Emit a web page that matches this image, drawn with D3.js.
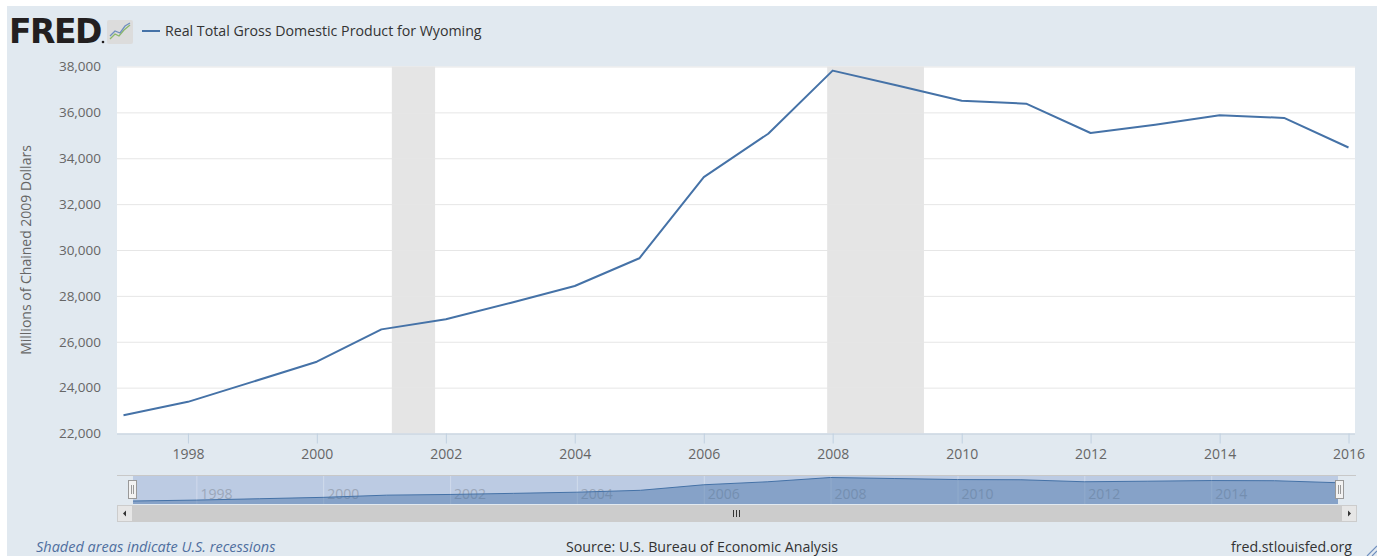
<!DOCTYPE html>
<html>
<head>
<meta charset="utf-8">
<script src="https://cdn.jsdelivr.net/npm/d3@7"></script>
<style>
  html, body { margin: 0; padding: 0; background: #fff; }
  svg { display: block; font-family: "Open Sans", sans-serif; }
</style>
</head>
<body>
<div id="chart"></div>
<script>
'use strict'

// data (annual values, millions of chained 2009 dollars)
const years = [1997, 1998, 1999, 2000, 2001, 2002, 2003, 2004, 2005, 2006,
               2007, 2008, 2009, 2010, 2011, 2012, 2013, 2014, 2015, 2016];
const gdp = [22800, 23380, 24250, 25130, 26540, 26980, 27690, 28430, 29640, 33180,
             35070, 37820, 37170, 36510, 36380, 35100, 35460, 35870, 35760, 34470];
const recessionStart = ["2001-03-01", "2007-12-01"];
const recessionEnd = ["2001-11-01", "2009-06-01"];
const yTicks = [22000, 24000, 26000, 28000, 30000, 32000, 34000, 36000, 38000];
const xTickYears = [1998, 2000, 2002, 2004, 2006, 2008, 2010, 2012, 2014, 2016];
const navTickYears = [1998, 2000, 2002, 2004, 2006, 2008, 2010, 2012, 2014];

const W = 1377, H = 556;
const blue = "#4572a7";
const parse = d3.timeParse("%Y-%m-%d");
const data = years.map((y, i) => ({date: new Date(y, 0, 1), value: gdp[i]}));

const svg = d3.select("#chart").append("svg")
    .attr("width", W).attr("height", H);

// page background
svg.append("rect").attr("x", 7).attr("y", 6).attr("width", W - 7).attr("height", H - 6)
    .attr("fill", "#e1e9f0");

// ---- header: logo + legend
svg.append("text")
    .attr("x", 9).attr("y", 43)
    .attr("font-family", "DejaVu Sans").attr("font-weight", "bold")
    .attr("font-size", 33).attr("letter-spacing", -1.5)
    .attr("fill", "#231f20")
    .text("FRED");
svg.append("circle").attr("cx", 103).attr("cy", 42).attr("r", 1.3).attr("fill", "#231f20");

const icon = svg.append("g").attr("transform", "translate(107,20)");
icon.append("rect").attr("width", 26).attr("height", 24).attr("rx", 2)
    .attr("fill", "#dcdcdc");
icon.append("polyline").attr("points", "3,19 8,14 12,16 17,10 23,5")
    .attr("fill", "none").attr("stroke", "#8bb86b").attr("stroke-width", 1.3);
icon.append("polyline").attr("points", "3,16 8,11 13,13 18,6 23,3")
    .attr("fill", "none").attr("stroke", "#6f8fbf").attr("stroke-width", 1.3);

svg.append("line").attr("x1", 142).attr("x2", 160).attr("y1", 31).attr("y2", 31)
    .attr("stroke", blue).attr("stroke-width", 2);
svg.append("text").attr("x", 165).attr("y", 36)
    .attr("font-size", 14.2).attr("fill", "#333")
    .text("Real Total Gross Domestic Product for Wyoming");

// ---- main plot
const plot = {left: 117, right: 1355, top: 66.5, bottom: 433.5};

const x = d3.scaleTime()
    .domain([new Date(1997, 0, 1), new Date(2016, 0, 1)])
    .range([123.5, 1348.5]);
const y = d3.scaleLinear()
    .domain([22000, 38000])
    .range([plot.bottom, plot.top]);

svg.append("rect")
    .attr("x", plot.left).attr("y", plot.top)
    .attr("width", plot.right - plot.left).attr("height", plot.bottom - plot.top)
    .attr("fill", "#fff");

// recession bands
svg.append("g").selectAll("rect")
    .data(recessionStart.map((s, i) => [parse(s), parse(recessionEnd[i])]))
    .join("rect")
    .attr("x", d => x(d[0]))
    .attr("width", d => x(d[1]) - x(d[0]))
    .attr("y", plot.top).attr("height", plot.bottom - plot.top)
    .attr("fill", "#e5e5e5");

// horizontal grid
const grid = svg.append("g")
    .attr("transform", `translate(${plot.left},0)`)
    .call(d3.axisLeft(y).tickValues(yTicks).tickSize(-(plot.right - plot.left)).tickFormat(""));
grid.select(".domain").remove();
grid.selectAll("line").attr("stroke", "#e6e6e6");

// y axis labels
const yAxis = svg.append("g")
    .attr("transform", `translate(${plot.left},0)`)
    .call(d3.axisLeft(y).tickValues(yTicks).tickSize(0).tickPadding(16).tickFormat(d3.format(",")));
yAxis.select(".domain").remove();
yAxis.selectAll("text")
    .attr("font-family", "Open Sans").attr("font-size", 13.5).attr("fill", "#666");

svg.append("text")
    .attr("transform", "translate(31,250) rotate(-90)")
    .attr("text-anchor", "middle")
    .attr("font-size", 14).attr("fill", "#666")
    .text("Millions of Chained 2009 Dollars");

// x axis
const xAxis = svg.append("g")
    .attr("transform", `translate(0,${plot.bottom})`)
    .call(d3.axisBottom(x)
        .tickValues(xTickYears.map(yr => new Date(yr, 0, 1)))
        .tickSize(10).tickPadding(6)
        .tickFormat(d3.timeFormat("%Y")));
xAxis.select(".domain").attr("d", `M${plot.left},0.5H${plot.right}`).attr("stroke", "#c0d0e0");
xAxis.selectAll("line").attr("stroke", "#c0d0e0");
xAxis.selectAll("text")
    .attr("font-family", "Open Sans").attr("font-size", 14).attr("fill", "#666");

// series line
svg.append("path")
    .datum(data)
    .attr("fill", "none")
    .attr("stroke", blue)
    .attr("stroke-width", 2)
    .attr("stroke-linejoin", "round")
    .attr("d", d3.line().x(d => x(d.date)).y(d => y(d.value)));

// ---- navigator
const nav = {left: 133, right: 1338, top: 476, bottom: 504};
const nx = d3.scaleTime()
    .domain([new Date(1997, 0, 1), new Date(2016, 0, 1)])
    .range([nav.left, nav.right]);
const ny = d3.scaleLinear()
    .domain(d3.extent(gdp))
    .range([501, 477.5]);

svg.append("line").attr("x1", plot.left).attr("x2", 1356)
    .attr("y1", nav.top - 0.5).attr("y2", nav.top - 0.5)
    .attr("stroke", "#c8c8c8");
svg.append("rect")
    .attr("x", nav.left).attr("y", nav.top)
    .attr("width", nav.right - nav.left).attr("height", nav.bottom - nav.top)
    .attr("fill", "#bccbe3");

svg.append("g").selectAll("line")
    .data(navTickYears)
    .join("line")
    .attr("x1", d => nx(new Date(d, 0, 1)) + 0.5).attr("x2", d => nx(new Date(d, 0, 1)) + 0.5)
    .attr("y1", nav.top).attr("y2", nav.bottom)
    .attr("stroke", "#d0dbec");

svg.append("g").selectAll("text")
    .data(navTickYears)
    .join("text")
    .attr("x", d => nx(new Date(d, 0, 1)) + 4)
    .attr("y", 499)
    .attr("font-size", 14).attr("fill", "#8e98a8").attr("opacity", 0.7)
    .text(d => d);

svg.append("path")
    .datum(data)
    .attr("fill", blue).attr("fill-opacity", 0.45)
    .attr("d", d3.area().x(d => nx(d.date)).y0(nav.bottom).y1(d => ny(d.value)));
svg.append("path")
    .datum(data)
    .attr("fill", "none").attr("stroke", blue).attr("stroke-width", 1)
    .attr("d", d3.line().x(d => nx(d.date)).y(d => ny(d.value)));

// handles
[nav.left - 5, nav.right - 3].forEach(hx => {
    svg.append("rect").attr("x", hx + 0.5).attr("y", 480.5).attr("width", 8).attr("height", 18)
        .attr("fill", "#f2f2f2").attr("stroke", "#999");
    svg.append("path").attr("d", `M${hx + 3.5},485V494M${hx + 5.5},485V494`)
        .attr("stroke", "#999");
});

// scrollbar
svg.append("rect").attr("x", plot.left).attr("y", 505).attr("width", 1356 - plot.left).attr("height", 17)
    .attr("fill", "#cccccc");
[plot.left, 1341].forEach((bx, i) => {
    svg.append("rect").attr("x", bx + 0.5).attr("y", 505.5).attr("width", 15).attr("height", 16)
        .attr("fill", "#e6e6e6").attr("stroke", "#cccccc");
    const cx = bx + 8, cy = 513.5;
    svg.append("path")
        .attr("d", i === 0 ? `M${cx - 2},${cy}L${cx + 1},${cy - 3}V${cy + 3}Z` : `M${cx + 2},${cy}L${cx - 1},${cy - 3}V${cy + 3}Z`)
        .attr("fill", "#333");
});
svg.append("path").attr("d", "M733.5,510V517M736.5,510V517M739.5,510V517")
    .attr("stroke", "#333");

// ---- footer
svg.append("text").attr("x", 36).attr("y", 552)
    .attr("font-size", 14.5).attr("font-style", "italic").attr("fill", "#4f6f9f")
    .text("Shaded areas indicate U.S. recessions");
svg.append("text").attr("x", 702).attr("y", 552)
    .attr("text-anchor", "middle")
    .attr("font-size", 14.2).attr("fill", "#333")
    .text("Source: U.S. Bureau of Economic Analysis");
svg.append("text").attr("x", 1352).attr("y", 552)
    .attr("text-anchor", "end")
    .attr("font-size", 14.2).attr("fill", "#333")
    .text("fred.stlouisfed.org");
svg.append("path").attr("d", "M1367,556L1377,546M1372,556L1377,551")
    .attr("stroke", "#6f8fbf").attr("stroke-width", 1.2);
</script>
</body>
</html>
